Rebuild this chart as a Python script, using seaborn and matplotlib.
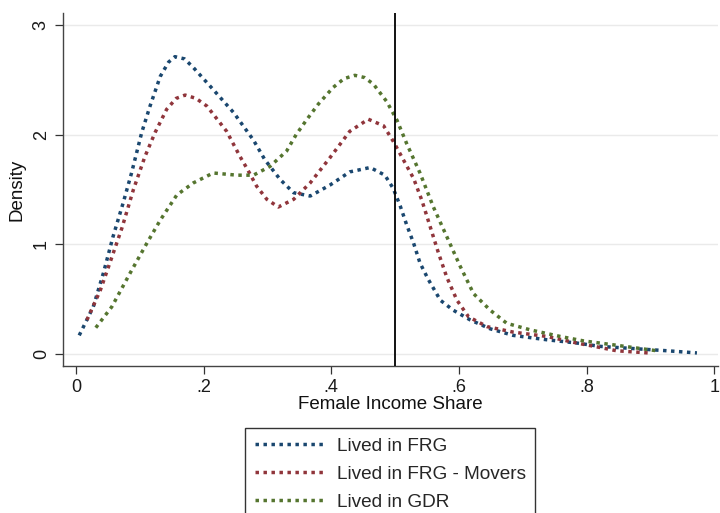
import matplotlib
matplotlib.use("Agg")
import matplotlib.pyplot as plt
import seaborn as sns
import pandas as pd

# ---- data ----
series_names = ["Lived in FRG", "Lived in FRG - Movers", "Lived in GDR"]
series_colors = ["#1a476f", "#90353b", "#55752f"]

frg_x = [0.005, 0.027, 0.043, 0.058, 0.074, 0.087, 0.103, 0.116, 0.132, 0.145, 0.155,
         0.170, 0.184, 0.215, 0.247, 0.278, 0.296, 0.320, 0.341, 0.367, 0.398, 0.429,
         0.461, 0.484, 0.497, 0.508, 0.518, 0.529, 0.539, 0.552, 0.571, 0.591,
         0.618, 0.649, 0.685, 0.738, 0.785, 0.821, 0.873, 0.926, 0.973]
frg_y = [0.17, 0.43, 0.74, 1.07, 1.38, 1.65, 2.02, 2.26, 2.53, 2.66, 2.71,
         2.69, 2.61, 2.41, 2.20, 1.95, 1.77, 1.59, 1.47, 1.44, 1.54, 1.66,
         1.70, 1.63, 1.51, 1.35, 1.18, 1.01, 0.83, 0.68, 0.49, 0.40,
         0.31, 0.23, 0.17, 0.13, 0.10, 0.07, 0.05, 0.03, 0.01]

mov_x = [0.017, 0.038, 0.053, 0.072, 0.090, 0.108, 0.124, 0.142, 0.157, 0.171, 0.188, 0.205,
         0.236, 0.257, 0.268, 0.283, 0.299, 0.317, 0.341, 0.367, 0.398, 0.429,
         0.458, 0.482, 0.497, 0.513, 0.529, 0.542, 0.555, 0.568, 0.581, 0.597,
         0.615, 0.644, 0.685, 0.738, 0.785, 0.821, 0.847, 0.897]
mov_y = [0.31, 0.58, 0.83, 1.15, 1.50, 1.80, 2.02, 2.23, 2.33, 2.36, 2.33, 2.26,
         2.03, 1.80, 1.69, 1.53, 1.41, 1.34, 1.41, 1.56, 1.79, 2.03,
         2.14, 2.08, 1.94, 1.77, 1.60, 1.40, 1.16, 0.92, 0.70, 0.49,
         0.34, 0.25, 0.20, 0.16, 0.10, 0.06, 0.03, 0.01]

gdr_x = [0.031, 0.056, 0.085, 0.111, 0.132, 0.158, 0.184, 0.215, 0.252, 0.278,
         0.304, 0.330, 0.345, 0.362, 0.380, 0.403, 0.420, 0.437, 0.452, 0.466, 0.487, 0.503,
         0.518, 0.539, 0.560, 0.581, 0.602, 0.623, 0.649, 0.675, 0.712, 0.759,
         0.795, 0.847, 0.910]
gdr_y = [0.24, 0.43, 0.74, 1.01, 1.22, 1.45, 1.56, 1.65, 1.63, 1.63,
         1.71, 1.85, 2.00, 2.14, 2.28, 2.43, 2.51, 2.54, 2.52, 2.46, 2.30, 2.13,
         1.92, 1.65, 1.34, 1.07, 0.80, 0.55, 0.40, 0.28, 0.22, 0.16,
         0.12, 0.08, 0.03]

x_ticks = [0, 0.2, 0.4, 0.6, 0.8, 1.0]
x_tick_labels = ["0", ".2", ".4", ".6", ".8", "1"]
y_ticks = [0, 1, 2, 3]
y_tick_labels = ["0", "1", "2", "3"]
threshold = 0.5

# ---- build table ----
frames = []
for name, xs, ys in zip(series_names, [frg_x, mov_x, gdr_x], [frg_y, mov_y, gdr_y]):
    frames.append(pd.DataFrame({"share": xs, "density": ys, "group": name}))
df = pd.concat(frames, ignore_index=True)

sns.set_theme(style="white")
plt.rcParams["font.family"] = ["Liberation Sans", "DejaVu Sans"]

fig = plt.figure(figsize=(7.2, 5.13), dpi=100)
ax = fig.add_axes([63 / 720, 1 - 366 / 513, (718 - 63) / 720, (366 - 13) / 513])

for gy in y_ticks:
    ax.axhline(gy, color="#eaeaea", lw=1.0, zorder=0)

dots = (0, (1, 1.3))
LW = 2.5
for name, col in zip(series_names, series_colors):
    sub = df[df["group"] == name]
    sns.lineplot(data=sub, x="share", y="density", ax=ax, color=col, sort=False,
                 lw=LW, label=name, estimator=None)
for line in ax.get_lines()[len(y_ticks):]:
    line.set_linestyle(dots)
    line.set_dash_capstyle("butt")

ax.axvline(threshold, color="black", lw=1.3, zorder=3)

ax.set_xlim(-0.0204, 1.006)
ax.set_ylim(-0.109, 3.108)
ax.set_xticks(x_ticks)
ax.set_xticklabels(x_tick_labels)
ax.set_yticks(y_ticks)
ax.set_yticklabels(y_tick_labels, rotation=90, va="center")
ax.tick_params(axis="both", direction="out", length=5.5, width=0.9, color="#333333",
               labelsize=13, pad=4, labelcolor="#1a1a1a", bottom=True, left=True)
ax.set_xlabel("Female Income Share", fontsize=13.5, labelpad=0, color="#111111")
ax.set_ylabel("Density", fontsize=13.5, labelpad=5, color="#111111")

for s in ["top", "right"]:
    ax.spines[s].set_visible(False)
for s in ["left", "bottom"]:
    ax.spines[s].set_color("#444444")
    ax.spines[s].set_linewidth(1.0)

leg = ax.legend(loc="upper left", bbox_to_anchor=(245 / 720, 1 - 428 / 513),
                bbox_transform=fig.transFigure, frameon=True, fancybox=False,
                edgecolor="black", fontsize=13.7, handlelength=3.58, handletextpad=0.74,
                labelspacing=0.56, borderpad=0.5, borderaxespad=0)
leg.get_frame().set_linewidth(1.0)
for h in leg.get_lines():
    h.set_linestyle(dots)
    h.set_linewidth(LW)
    h.set_dash_capstyle("butt")

fig.savefig("out.png", dpi=100)
